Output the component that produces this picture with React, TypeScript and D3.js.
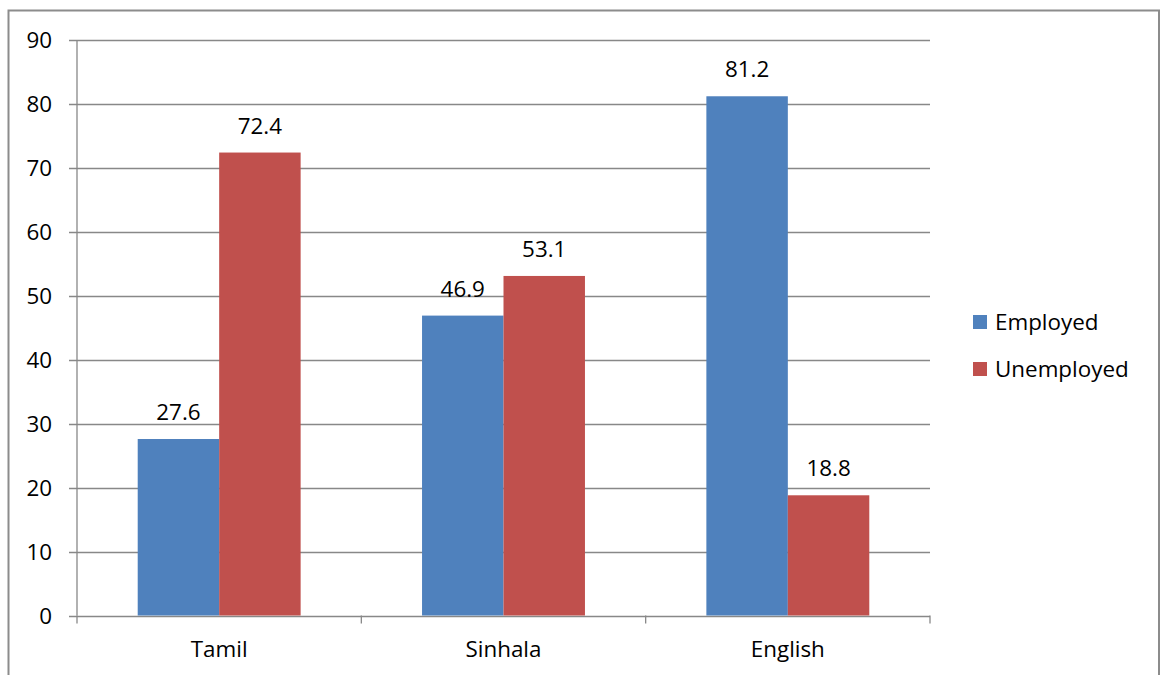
import React from "react";
import * as d3 from "d3";

const categories = ["Tamil", "Sinhala", "English"];
const seriesNames = ["Employed", "Unemployed"];
const employed = [27.6, 46.9, 81.2];
const unemployed = [72.4, 53.1, 18.8];
const yTicks = [0, 10, 20, 30, 40, 50, 60, 70, 80, 90];
const colors = ["#4F81BD", "#C0504D"];

const FS = 22.4;
const CAP = 8; // half cap height, px
function T({ x, y, anchor = "start", children }: { x: number; y: number; anchor?: string; children: any }) {
  return (
    <text x={x} y={y} textAnchor={anchor} fontSize={FS} fill="#000">
      {children}
    </text>
  );
}

export default function App() {
  const W = 1160, H = 675;
  const left = 77, right = 930, top = 40, bottom = 615.5;
  const font = "'Open Sans', Lato, sans-serif";
  const y = d3.scaleLinear().domain([0, 90]).range([bottom, top]);
  const x0 = d3.scaleBand().domain(categories).range([left, right]).paddingInner(0).paddingOuter(0);
  const catW = x0.bandwidth();
  const groupW = catW * 0.573;
  const x1 = d3.scaleBand().domain(seriesNames).range([0, groupW]).padding(0);
  const series = [employed, unemployed];
  const gridColor = "#888888";
  return (
    <svg width={W} height={H} style={{ position: "absolute", left: 0, top: 0 }} fontFamily={font}>
      <rect x={0} y={0} width={W} height={H} fill="#fff" />
      <path d={`M8.5,${H} V10.5 H1159 V${H}`} fill="none" stroke="#8c8c8c" strokeWidth={2} />
      {yTicks.map((t) => (
        <g key={t}>
          <line x1={69} x2={right} y1={Math.round(y(t)) + 0.5} y2={Math.round(y(t)) + 0.5} stroke={gridColor} strokeWidth={1.3} />
          <T x={52} y={y(t) + CAP} anchor="end">{t}</T>
        </g>
      ))}
      <line x1={left} x2={left} y1={top} y2={bottom} stroke={gridColor} strokeWidth={1.3} />
      {[...categories.map((c) => x0(c) as number), right].map((xx, i) => (
        <line key={i} x1={xx} x2={xx} y1={bottom} y2={bottom + 8} stroke={gridColor} strokeWidth={1.3} />
      ))}
      {categories.map((c, ci) => {
        const gx = (x0(c) as number) + (catW - groupW) / 2;
        return (
          <g key={c}>
            {seriesNames.map((s, si) => {
              const v = series[si][ci];
              const bx = gx + (x1(s) as number);
              return (
                <g key={s}>
                  <rect x={bx} y={y(v)} width={x1.bandwidth()} height={bottom - y(v)} fill={colors[si]} />
                  <T x={bx + x1.bandwidth() / 2} y={y(v) - 19} anchor="middle">{v}</T>
                </g>
              );
            })}
            <T x={(x0(c) as number) + catW / 2} y={657} anchor="middle">{c}</T>
          </g>
        );
      })}
      {seriesNames.map((s, i) => (
        <g key={s}>
          <rect x={973} y={322 + i * 47 - 7} width={14} height={14} fill={colors[i]} />
          <T x={995} y={322 + i * 47 + CAP}>{s}</T>
        </g>
      ))}
    </svg>
  );
}
